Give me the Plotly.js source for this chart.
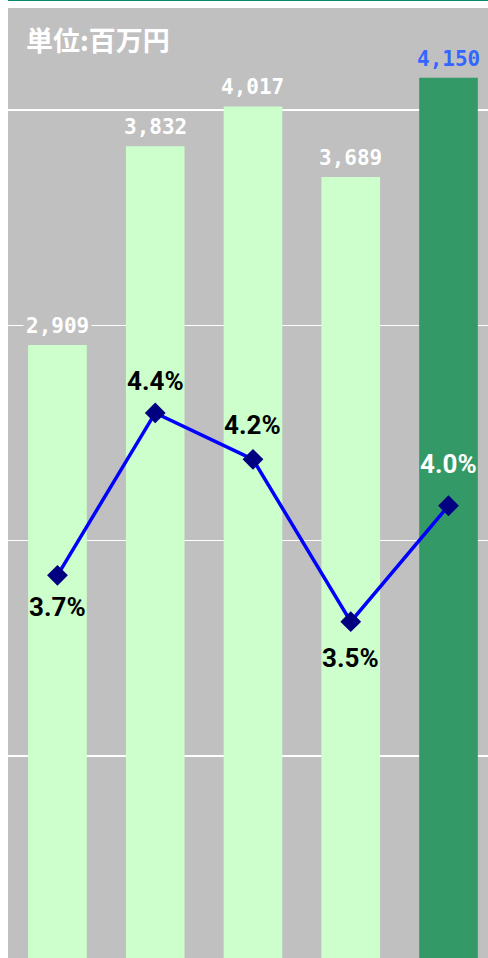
<!DOCTYPE html>
<html>
<head>
<meta charset="utf-8">
<script src="https://cdn.plot.ly/plotly-3.0.1.min.js"></script>
<style>
html,body{margin:0;padding:0;background:#ffffff;overflow:hidden;}
#chart{width:488px;height:958px;}
</style>
</head>
<body>
<div id="chart"></div>
<script>
// ---- data ----
const categories = ['A', 'B', 'C', 'D', 'E'];
const salesValues = [2909, 3832, 4017, 3689, 4150];      // 百万円
const ratioValues = [3.7, 4.4, 4.2, 3.5, 4.0];           // %
const unitLabel = '単位:百万円';

// ---- styles ----
const barColors = ['#ccffcc', '#ccffcc', '#ccffcc', '#ccffcc', '#339966'];
const barLabelColors = ['#ffffff', '#ffffff', '#ffffff', '#ffffff', '#3366ff'];
const pctLabelColors = ['#000000', '#000000', '#000000', '#000000', '#ffffff'];
const pctLabelShift = [-32, 32, 34, -36, 42];

const fmt = v => v.toLocaleString('en-US');

const barTrace = {
  type: 'bar',
  x: categories,
  y: salesValues,
  width: 0.6,
  marker: {color: barColors, line: {width: 0}},
  hoverinfo: 'skip'
};

const lineTrace = {
  type: 'scatter',
  mode: 'lines+markers',
  x: categories,
  y: ratioValues,
  yaxis: 'y2',
  line: {color: '#0000ff', width: 3.5},
  marker: {symbol: 'diamond', size: 16, color: '#000080'},
  hoverinfo: 'skip'
};

const annotations = [];
categories.forEach((c, i) => {
  annotations.push({
    x: i, y: salesValues[i], xref: 'x', yref: 'y',
    text: fmt(salesValues[i]),
    showarrow: false, yanchor: 'bottom', yshift: 4,
    bgcolor: '#c0c0c0', borderpad: 2,
    font: {family: 'DejaVu Sans Mono, monospace', size: 21, color: barLabelColors[i], weight: 'bold'}
  });
  annotations.push({
    x: i, y: ratioValues[i], xref: 'x', yref: 'y2',
    text: ratioValues[i].toFixed(1) + '%',
    showarrow: false, yanchor: 'middle', yshift: pctLabelShift[i],
    font: {family: 'Roboto, sans-serif', size: 26, color: pctLabelColors[i], weight: 'bold'}
  });
});
annotations.push({
  xref: 'paper', yref: 'paper', x: 0.033, y: 0.967,
  xanchor: 'left', yanchor: 'middle', showarrow: false,
  text: unitLabel,
  font: {family: 'Noto Sans CJK JP, sans-serif', size: 27, color: '#ffffff', weight: 'bold'}
});

const layout = {
  width: 488, height: 958,
  margin: {l: 8, r: 0, t: 8, b: 0, pad: 0},
  paper_bgcolor: '#ffffff',
  plot_bgcolor: '#c0c0c0',
  showlegend: false,
  bargap: 0.4,
  xaxis: {
    type: 'category', range: [-0.506, 4.404],
    showgrid: false, zeroline: false, showticklabels: false, showline: false, ticks: ''
  },
  yaxis: {
    range: [62, 4474], dtick: 1000, tick0: 0,
    showgrid: true, gridcolor: '#ffffff', gridwidth: 1.5,
    zeroline: false, showticklabels: false, showline: false, ticks: ''
  },
  yaxis2: {
    overlaying: 'y', side: 'right', range: [2.05, 6.146],
    showgrid: false, zeroline: false, showticklabels: false, showline: false, ticks: ''
  },
  shapes: [{
    type: 'line', xref: 'paper', yref: 'paper',
    x0: 0, x1: 1.02, y0: 1.0084, y1: 1.0084,
    line: {color: '#00896b', width: 2}
  }],
  annotations: annotations
};

Plotly.newPlot('chart', [barTrace, lineTrace], layout, {displayModeBar: false, staticPlot: true});
</script>
</body>
</html>
